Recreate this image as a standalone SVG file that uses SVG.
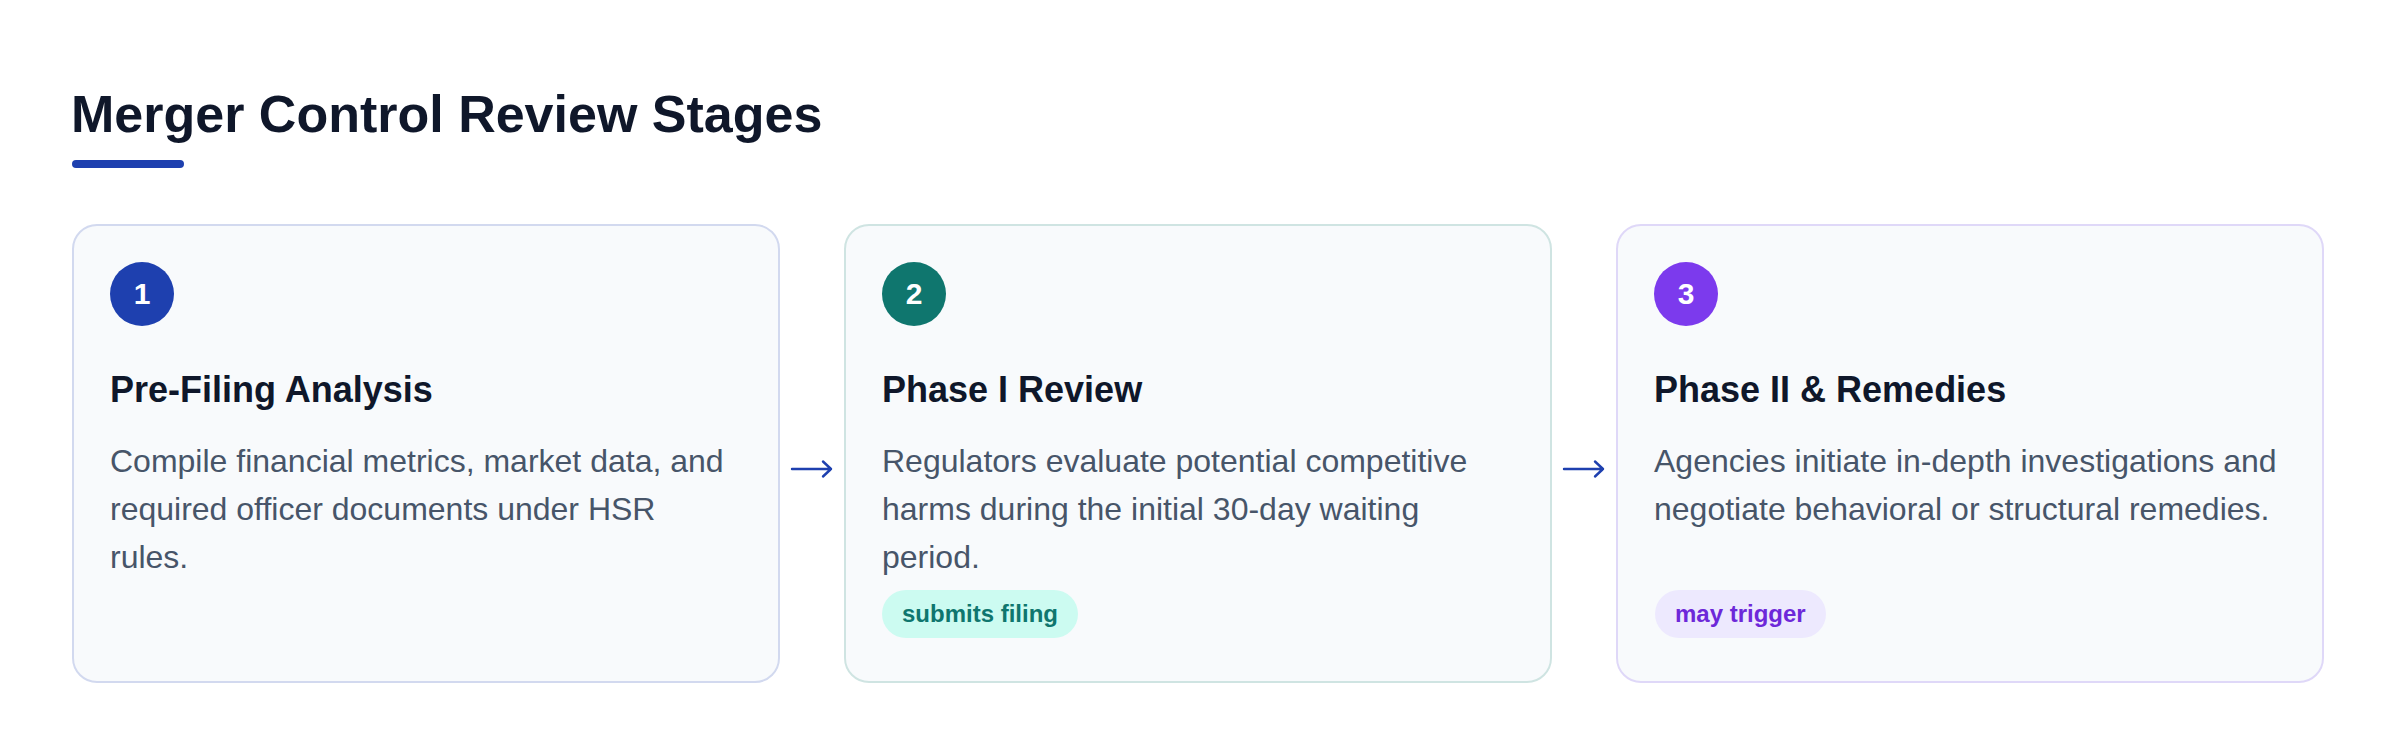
<svg xmlns="http://www.w3.org/2000/svg" width="2400" height="756" viewBox="0 0 2400 756">
  <defs>
    <style>
      .title { font-family: "Liberation Sans", Arial, sans-serif; font-size: 52px; font-weight: 700; fill: #0f172a; }
      .card { fill: #f8fafc; stroke-width: 2; }
      .num { font-family: "Liberation Sans", Arial, sans-serif; font-size: 30px; font-weight: 700; fill: #ffffff; text-anchor: middle; }
      .head { font-family: "Liberation Sans", Arial, sans-serif; font-size: 36px; font-weight: 700; fill: #0f172a; }
      .body { font-family: "Liberation Sans", Arial, sans-serif; font-size: 32px; fill: #475569; }
      .badge { font-family: "Liberation Sans", Arial, sans-serif; font-size: 24px; font-weight: 700; }
      .conn { fill: none; stroke: #1e40af; stroke-width: 2.4; stroke-linecap: round; stroke-linejoin: round; }
    </style>
  </defs>
  <rect width="2400" height="756" fill="#ffffff"/>

  <g id="header">
    <text class="title" x="71" y="132">Merger Control Review Stages</text>
    <rect x="72" y="160" width="112" height="8" rx="4" fill="#1e40af"/>
  </g>

  <g id="stage1">
    <rect class="card" x="73" y="225" width="706" height="457" rx="24" stroke="#d2d9ef"/>
    <circle cx="142" cy="294" r="32" fill="#1e40af"/>
    <text class="num" x="142" y="304">1</text>
    <text class="head" x="110" y="402">Pre-Filing Analysis</text>
    <text class="body" x="110" y="472">Compile financial metrics, market data, and</text>
    <text class="body" x="110" y="520">required officer documents under HSR</text>
    <text class="body" x="110" y="568">rules.</text>
  </g>

  <g id="stage2">
    <rect class="card" x="845" y="225" width="706" height="457" rx="24" stroke="#cfe4e2"/>
    <circle cx="914" cy="294" r="32" fill="#0f766e"/>
    <text class="num" x="914" y="304">2</text>
    <text class="head" x="882" y="402">Phase I Review</text>
    <text class="body" x="882" y="472">Regulators evaluate potential competitive</text>
    <text class="body" x="882" y="520">harms during the initial 30-day waiting</text>
    <text class="body" x="882" y="568">period.</text>
    <rect x="882" y="590" width="196" height="48" rx="24" fill="#ccfbf1"/>
    <text class="badge" x="902" y="622" fill="#0f766e">submits filing</text>
  </g>

  <g id="stage3">
    <rect class="card" x="1617" y="225" width="706" height="457" rx="24" stroke="#dfd8f8"/>
    <circle cx="1686" cy="294" r="32" fill="#7c3aed"/>
    <text class="num" x="1686" y="304">3</text>
    <text class="head" x="1654" y="402">Phase II &amp; Remedies</text>
    <text class="body" x="1654" y="472">Agencies initiate in-depth investigations and</text>
    <text class="body" x="1654" y="520">negotiate behavioral or structural remedies.</text>
    <rect x="1655" y="590" width="171" height="48" rx="24" fill="#ede9fe"/>
    <text class="badge" x="1675" y="622" fill="#6d28d9">may trigger</text>
  </g>

  <g id="connectors">
    <path class="conn" d="M792 469 H831 M823 461.5 L831 469 L823 476.5"/>
    <path class="conn" d="M1564 469 H1603 M1595 461.5 L1603 469 L1595 476.5"/>
  </g>
</svg>
